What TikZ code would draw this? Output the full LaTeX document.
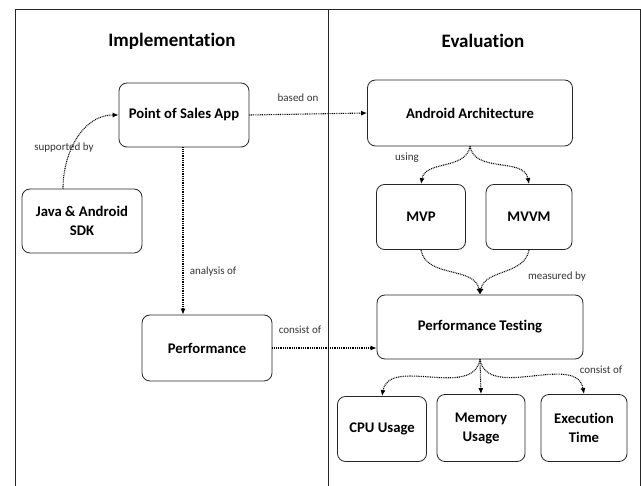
\documentclass[tikz,border=0pt]{standalone}
\usepackage{fontspec}
\setmainfont{Carlito}[Ligatures=NoCommon]
\usetikzlibrary{arrows.meta}
\begin{document}
\begin{tikzpicture}[x=1pt,y=-1pt,
  box/.style={draw=black!85,line width=0.8pt,rounded corners=8pt,align=center,
    font=\bfseries\fontsize{14.7}{17}\selectfont,inner sep=0pt},
  title/.style={font=\bfseries\fontsize{19}{22}\selectfont},
  lbl/.style={font=\fontsize{11}{13}\selectfont,text=black!80,inner sep=1pt},
  conn/.style={line width=1.1pt,dash pattern=on 0.9pt off 0.9pt,-{Latex[length=6pt,width=5pt]}},
]
\useasboundingbox (0,0) rectangle (641,486);
\begin{scope}
\clip (0,0) rectangle (641,486);
\draw[line width=1pt,black!85] (15,10) rectangle (640,500);
\draw[line width=1pt,black!85] (328,10) -- (328,500);
\end{scope}
\node[title] (t1) at (172,41) {Implementation};
\node[title] (t2) at (483,41) {Evaluation};

\node[box,minimum width=130pt,minimum height=64pt] (pos) at (184,115) {Point of Sales App};
\node[box,minimum width=120pt,minimum height=64pt] (java) at (82,221) {Java \& Android\\[2pt]SDK};
\node[box,minimum width=130pt,minimum height=66pt] (perf) at (207,348) {Performance};
\node[box,minimum width=205pt,minimum height=66pt] (aa) at (470,113) {Android Architecture};
\node[box,minimum width=89pt,minimum height=65pt] (mvp) at (421,217) {MVP};
\node[box,minimum width=86pt,minimum height=65pt] (mvvm) at (529,217) {MVVM};
\node[box,minimum width=206pt,minimum height=64pt] (pt) at (480,327) {Performance Testing};
\node[box,minimum width=89pt,minimum height=65pt] (cpu) at (382,429) {CPU Usage};
\node[box,minimum width=88pt,minimum height=67pt] (mem) at (481,428) {Memory\\[2pt]Usage};
\node[box,minimum width=86pt,minimum height=67pt] (exe) at (584,428) {Execution\\[2pt]Time};

\draw[conn] (java.north -| 63,0) to[out=90,in=180] (pos.west);
\draw[conn] (pos.east) -- (aa.west);
\draw[conn] (pos.south -| 183,0) -- (perf.north -| 183,0);
\draw[conn] (perf.east |- 0,348) -- (pt.west |- 0,348);
\draw[conn] (aa.south) to[out=-100,in=80] (mvp.north);
\draw[conn] (aa.south) to[out=-80,in=100] (mvvm.north);
\draw[conn] (mvp.south) to[out=-80,in=100] (pt.north);
\draw[conn] (mvvm.south) to[out=-100,in=80] (pt.north);
\draw[conn] (pt.south) to[out=-100,in=80] (cpu.north);
\draw[conn] (pt.south) -- (mem.north);
\draw[conn] (pt.south) to[out=-80,in=100] (exe.north);

\node[lbl] (l1) at (64,148) {supported by};
\node[lbl] (l2) at (298,98) {based on};
\node[lbl] (l3) at (407,158) {using};
\node[lbl] (l4) at (213,272) {analysis of};
\node[lbl] (l5) at (300,330) {consist of};
\node[lbl] (l6) at (557,277) {measured by};
\node[lbl] (l7) at (601,370) {consist of};
\end{tikzpicture}
\end{document}
